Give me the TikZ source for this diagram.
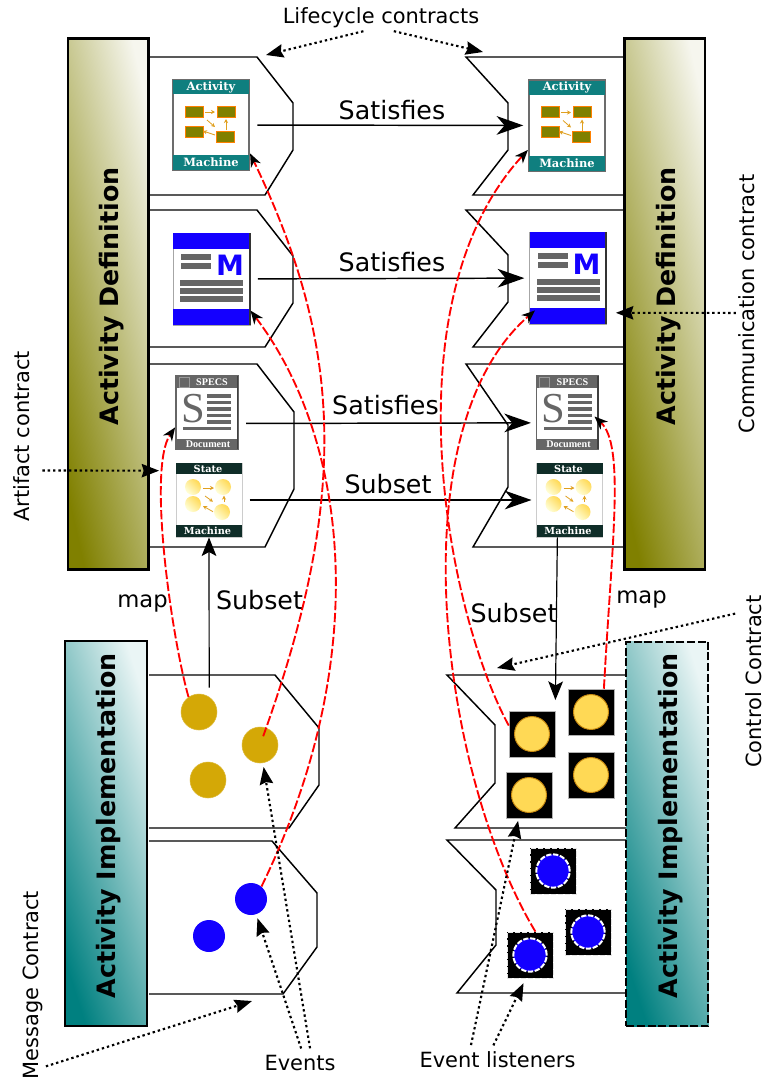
\documentclass[tikz,border=0pt]{standalone}
\usepackage{xcolor}
\usepackage{graphicx}
\usepackage{fontspec}
\setmainfont{DejaVu Sans}
\newfontfamily\slabfont{DejaVu Serif}
\newfontfamily\docfont{Liberation Serif}
\usetikzlibrary{arrows.meta}
\definecolor{barolive}{HTML}{808000}
\definecolor{barpale}{HTML}{F6F6EE}
\definecolor{barteal}{HTML}{008080}
\definecolor{tealpale}{HTML}{EAF5F5}
\definecolor{iconteal}{HTML}{0F7F7F}
\definecolor{icongreen}{HTML}{0F2D28}
\definecolor{iconblue}{HTML}{1400FF}
\definecolor{icongray}{HTML}{666666}
\definecolor{gold}{HTML}{D4A806}
\definecolor{lampyellow}{HTML}{FFD955}
\definecolor{lampedge}{HTML}{C98A10}
\definecolor{flow}{HTML}{E0A020}

\begin{document}
\begin{tikzpicture}[x=0.75pt,y=-0.75pt]
  \tikzset{olivebar/.style = {draw,line width=1.9pt,inner sep=0pt,minimum width=60.4pt,minimum height=398.2pt,bottom color=barolive,top color=barpale,shading angle=-77.3}}
  \tikzset{tealbar/.style = {draw,line width=1.2pt,inner sep=0pt,minimum width=61.5pt,minimum height=288.5pt,bottom color=barteal,top color=tealpale,shading angle=-72.3}}
  \tikzset{bartext/.style = {rotate=90,font=\fontsize{19}{23}\selectfont\bfseries}}
  \tikzset{edgetext/.style = {inner sep=2pt,font=\fontsize{19}{23}\selectfont}}
  \tikzset{maptext/.style = {inner sep=2pt,font=\fontsize{17}{21}\selectfont}}
  \tikzset{contracttext/.style = {inner sep=2pt,font=\fontsize{15.7}{19}\selectfont}}
  \tikzset{contract/.style = {line width=1.1pt}}
  \tikzset{satedge/.style = {line width=1.1pt,shorten <=5.5pt,shorten >=3.5pt,-{Stealth[length=20pt,width=14pt,inset=6pt]}}}
  \tikzset{subedge/.style = {line width=0.9pt,-{Stealth[length=14pt,width=11pt,inset=3pt]}}}
  \tikzset{mapedge/.style = {red,line width=1.4pt,dash pattern=on 7pt off 2pt,-{Stealth[color=black,length=10pt,width=8pt,inset=3pt]}}}
  \tikzset{noteedge/.style = {line width=1.6pt,dash pattern=on 1.8pt off 2.2pt,-{Stealth[length=13pt,width=10pt,inset=1.5pt]}}}
  \tikzset{golddot/.style = {shape=circle,fill=gold,draw=gold!80!white,line width=0.4pt,minimum size=27pt,inner sep=0pt}}
  \tikzset{bluedot/.style = {shape=circle,fill=iconblue,minimum size=24pt,inner sep=0pt}}
  \tikzset{lampsquare/.style = {fill=black,draw=gray!60,line width=0.4pt,minimum size=34.5pt,inner sep=0pt}}
  \tikzset{lampdot/.style = {shape=circle,fill=lampyellow,draw=lampedge,line width=0.7pt,minimum size=26.2pt,inner sep=0pt}}
  \tikzset{signalsquare/.style = {fill=black,draw=white!80!gray,line width=0.6pt,dash pattern=on 4pt off 1.2pt,minimum size=34.5pt,inner sep=0pt}}
  \tikzset{signaldot/.style = {shape=circle,fill=iconblue,draw=white,line width=1.5pt,dash pattern=on 4pt off 1.2pt,minimum size=25pt,inner sep=0pt}}
  \tikzset{slabhead/.style = {text=white,inner sep=0pt,font=\slabfont\bfseries\fontsize{8.6}{10}\selectfont}}
  \tikzset{slabsmall/.style = {text=white,inner sep=0pt,font=\slabfont\bfseries\fontsize{7.3}{9}\selectfont}}
  \tikzset{docsmall/.style = {text=white,inner sep=0pt,font=\docfont\bfseries\fontsize{7.6}{9}\selectfont}}
  \tikzset{flowarrow/.style = {flow,line width=0.6pt,-{Stealth[length=3pt,width=3pt]}}}
  \tikzset{ball/.style = {bottom color=yellow!15!white,top color=lampyellow,shading angle=-45}}

  \tikzset{activitymachine/.pic = {
    \node[draw=gray!85!black,fill=white,line width=1.6pt,minimum width=57pt,minimum height=67.5pt,inner sep=0pt] (box) at (0,0) {};
    \fill[iconteal] (-38,-45) rectangle (38,-31);
    \fill[iconteal] (-38,30) rectangle (38,45);
    \node[slabhead] (head) at (0,-38) {Activity};
    \node[slabhead] (foot) at (0,37.5) {Machine};
    \foreach \ax/\ay/\bx/\by in {-26/-19/-8/-8, 6/-19/24/-8, -26/1/-8/12, 5/6/23/17}
      \filldraw[fill=barolive,draw=orange,line width=0.5pt] (\ax,\ay) rectangle (\bx,\by);
    \draw[flowarrow] (-6,-13) -- (4,-13);
    \draw[flowarrow] (-4,-5) -- (4,2);
    \draw[flowarrow] (15,5) -- (15,-6);
    \draw[flowarrow] (4,10) -- (-8,6);
  }}
  \tikzset{messageicon/.pic = {
    \node[draw=gray!70,fill=white,line width=0.7pt,minimum width=57.8pt,minimum height=69pt,inner sep=0pt] (box) at (0,0) {};
    \fill[iconblue] (-38.5,-46) rectangle (38.5,-30);
    \fill[iconblue] (-38.5,30) rectangle (38.5,46);
    \draw[black!80,line width=1.5pt] (38,-46) -- (38,46);
    \foreach \ax/\ay/\bx/\by in {-30.5/-25/-0.5/-19, -30.5/-16/-0.5/-10, -31.5/1/31.5/7, -31.5/9/31.5/15, -31.5/17/31.5/23}
      \fill[icongray] (\ax,\ay) rectangle (\bx,\by);
    \node[text=iconblue,inner sep=0pt,font=\bfseries\fontsize{21}{24}\selectfont] (letter) at (18.5,-14) {M};
  }}
  \tikzset{specsdoc/.pic = {
    \node[draw=icongray,fill=white,line width=1.3pt,minimum width=46.5pt,minimum height=54.7pt,inner sep=0pt] (box) at (0,0) {};
    \fill[icongray] (-31,-36.5) rectangle (31,-24.5);
    \fill[icongray] (-31,26.5) rectangle (31,36.5);
    \draw[black!75,line width=1.2pt] (30.5,-36.5) -- (30.5,36.5);
    \draw[gray!80!white,line width=0.6pt] (-28,-35.5) rectangle (-18,-25.5);
    \node[docsmall] (head) at (5,-30.5) {SPECS};
    \node[docsmall] (foot) at (1,31.5) {Document};
    \node[text=icongray,inner sep=0pt,font=\docfont\fontsize{32}{34}\selectfont] (letter) at (-14,-4) {S};
    \foreach \y in {-16.5,-10,-3.5,3,9.5}
      \fill[icongray] (0,\y-1.7) rectangle (24,\y+1.7);
    \fill[icongray] (-24,14.5) rectangle (24,17.5);
  }}
  \tikzset{statemachine/.pic = {
    \node[draw=gray!40,fill=white,line width=0.5pt,minimum width=49.5pt,minimum height=55.5pt,inner sep=0pt] (box) at (0,0) {};
    \fill[icongreen] (-33,-37) rectangle (33,-26);
    \fill[icongreen] (-33,25) rectangle (33,37);
    \node[slabsmall] (head) at (-1,-31.5) {State};
    \node[slabsmall] (foot) at (-1.5,31) {Machine};
    \foreach \ax/\ay in {-16/-13, 14/-13, -16/4, 13/12}
      \shade[ball] (\ax,\ay) circle (8);
    \draw[flowarrow] (-6,-12) -- (5,-12);
    \draw[flowarrow] (-4,-4) -- (4,1.7);
    \draw[flowarrow] (15,2) -- (15,-4.3);
    \draw[flowarrow] (4,11.7) -- (-6,6);
  }}

  \useasboundingbox (0,0) rectangle (765,1082);

  \draw[contract] (149,57) -- (257,57) -- (293,103) -- (293,150) -- (265,195) -- (149,195);
  \draw[contract] (149,210) -- (257,210) -- (293,256) -- (293,303) -- (265,347) -- (149,347);
  \draw[contract] (149,364) -- (257,364) -- (294,412) -- (294,489) -- (265,547) -- (149,547);
  \draw[contract] (624,57) -- (466,57) -- (508,103) -- (508,150) -- (473,195) -- (624,195);
  \draw[contract] (624,210) -- (466,210) -- (508,255) -- (508,302) -- (473,347) -- (624,347);
  \draw[contract] (624,364) -- (466,364) -- (508,425) -- (508,487) -- (473,547) -- (624,547);
  \draw[contract] (149,675) -- (275,675) -- (319,728) -- (319,785) -- (289,828) -- (149,828);
  \draw[contract] (149,841) -- (272,841) -- (317,893) -- (317,947) -- (283,994) -- (149,994);
  \draw[contract] (627,675) -- (447,675) -- (495,725) -- (495,783) -- (455,828) -- (627,828);
  \draw[contract] (627,840) -- (447,840) -- (496,890) -- (496,945) -- (457,993) -- (627,993);

  \node[olivebar] (ADL) at (108.2,304) {};
  \node[olivebar] (ADR) at (664.8,304) {};
  \node[tealbar] (AIL) at (106,833.5) {};
  \node[tealbar,dashed,dash pattern=on 6pt off 2pt,line width=1.3pt] (AIR) at (667.3,834) {};
  \node[bartext] (ADLtext) at (112,296.5) {Activity Definition};
  \node[bartext] (ADRtext) at (669,296.5) {Activity Definition};
  \node[bartext] (AILtext) at (109,826) {Activity Implementation};
  \node[bartext] (AIRtext) at (671,826) {Activity Implementation};

  \pic (AML) at (211,125) {activitymachine};
  \pic (AMR) at (567,125.5) {activitymachine};
  \pic (ML) at (211.5,279) {messageicon};
  \pic (MR) at (568,278) {messageicon};
  \pic (SL) at (207,412.5) {specsdoc};
  \pic (SR) at (567.5,412.5) {specsdoc};
  \pic (SML) at (209,500) {statemachine};
  \pic (SMR) at (569.5,500) {statemachine};

  \node[golddot] (GA) at (199,712) {};
  \node[golddot] (GB) at (260,745) {};
  \node[golddot] (GC) at (208,780) {};
  \node[bluedot] (BA) at (251,899) {};
  \node[bluedot] (BB) at (209,936) {};

  \foreach \nm/\x/\y in {YA/532/734, YB/591/712, YC/591/775, YD/529/795}
  {
    \node[lampsquare] (\nm) at (\x,\y) {};
    \node[lampdot] (\nm dot) at (\x,\y) {};
  }
  \foreach \nm/\x/\y in {XA/553/871, XB/588/932, XC/530/955}
  {
    \node[signalsquare] (\nm) at (\x,\y) {};
    \node[signaldot] (\nm dot) at (\x,\y) {};
  }

  \node[edgetext] (SatA) at (392,110) {Satisfies};
  \node[edgetext] (SatB) at (392,262) {Satisfies};
  \node[edgetext] (SatC) at (385.5,405) {Satisfies};
  \node[edgetext] (SubC) at (388,484) {Subset};
  \node[edgetext] (SubL) at (259.5,600) {Subset};
  \node[edgetext] (SubR) at (514,613) {Subset};
  \node[maptext] (MapL) at (142.5,604) {map};
  \node[maptext] (MapR) at (641.5,600) {map};
  \node[contracttext] (LC) at (381,17.5) {Lifecycle contracts};
  \node[contracttext,rotate=90] (AC) at (22,436.5) {Artifact contract};
  \node[contracttext,rotate=90] (CC) at (747,304) {Communication contract};
  \node[contracttext,rotate=90] (TC) at (754,681.5) {Control Contract};
  \node[contracttext,rotate=90] (MC) at (33,985) {Message Contract};
  \node[contracttext] (EV) at (300,1063) {Events};
  \node[contracttext] (EL) at (497.5,1060) {Event listeners};

  \coordinate (LCa) at (266,55);
  \coordinate (LCb) at (483,52);
  \coordinate (TCa) at (497,668);
  \coordinate (MCa) at (252,1001);

  \foreach \from/\to in {AMLbox/AMRbox, MLbox/MRbox, SLbox.-19/SRbox.198, SMLbox/SMRbox}
    \draw[satedge] (\from) -- (\to);

  \draw[subedge,shorten <=7pt] (GA.56) -- (SMLbox.south);
  \draw[subedge,shorten >=8pt] (SMRbox.-108.7) -- (YA.north east);

  \draw[mapedge,shorten <=7pt] (GB.center) .. controls (352,490) and (340,341) .. (AMLbox.-36);
  \draw[mapedge] (BA.50) .. controls (374,656) and (348,439) .. (MLbox.-39);
  \draw[mapedge] (GA.125) .. controls (172,639) and (147,468) .. (SLbox.205);
  \draw[mapedge] (YA.160) .. controls (445,608) and (389,301) .. (AMRbox.212);
  \draw[mapedge,shorten >=-6pt] (XC.77) .. controls (442,777) and (395,432) .. (MRbox.224);
  \draw[mapedge,shorten >=-5pt] (YB.61) .. controls (612,540) and (625,445) .. (SRbox.-15);

  \draw[noteedge,shorten <=2pt] (LC.-139) -- (LCa);
  \draw[noteedge,shorten <=2pt] (LC.-52) -- (LCb);
  \draw[noteedge,shorten >=-5.5pt] (CC.129) -- (ADR.192.7);
  \draw[noteedge,shorten <=7pt,shorten >=-7pt] (AC.198) -- (ADL.-76.4);
  \draw[noteedge,shorten <=6pt] (TC.9.4) -- (TCa);
  \draw[noteedge] (MC.189.3) -- (MCa);
  \draw[noteedge,shorten <=3pt,shorten >=3pt] (EV.45) -- (GB);
  \draw[noteedge,shorten <=3pt,shorten >=3pt] (EV.77) -- (BA);
  \draw[noteedge,shorten <=3pt,shorten >=2pt] (EL.158) -- (YD.-114);
  \draw[noteedge,shorten <=3pt,shorten >=4pt] (EL.118) -- (XC.-100);

\end{tikzpicture}
\end{document}
